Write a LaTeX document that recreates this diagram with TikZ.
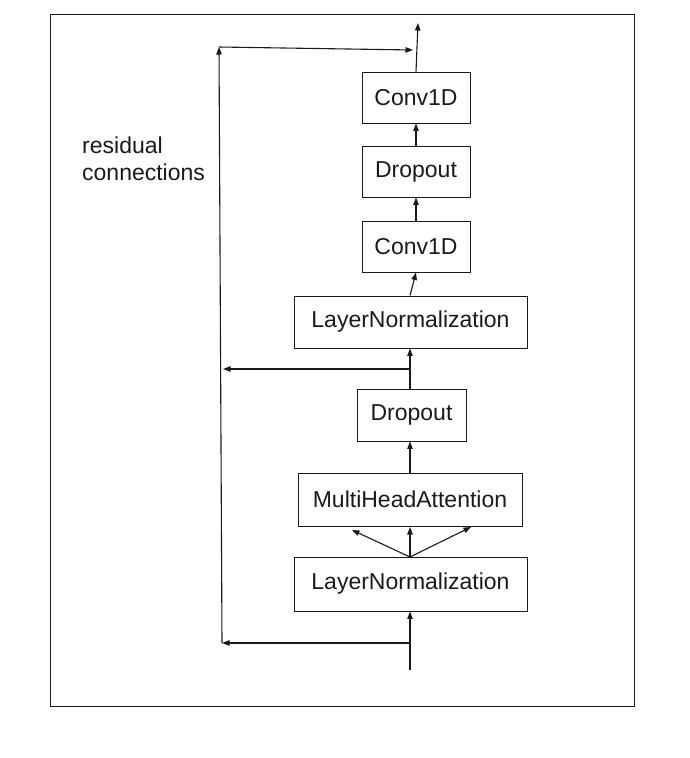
\documentclass[tikz,border=0pt]{standalone}
\usepackage{fontspec}
\setmainfont{Liberation Sans}
\usetikzlibrary{arrows.meta}
\definecolor{ink}{HTML}{1A1A1A}
\begin{document}
\begin{tikzpicture}[x=1pt,y=-1pt,
  box/.style={draw=ink,line width=0.95pt,inner sep=0pt,font=\fontsize{23}{27}\selectfont,text=ink},
  conn/.style={draw=ink,line width=1.1pt,-{Triangle[length=7.5pt,width=5.5pt]}},
  plain/.style={draw=ink,line width=1.1pt}]
\useasboundingbox (0,0) rectangle (690,758);
\draw[line width=0.9pt,ink] (50,14) rectangle (634,706);
% boxes
\node[box,minimum width=108pt,minimum height=51pt] (c1) at (416,97.5) {Conv1D};
\node[box,minimum width=108pt,minimum height=51pt] (d1) at (416,171.5) {Dropout};
\node[box,minimum width=108pt,minimum height=51pt] (c2) at (416,246.5) {Conv1D};
\node[box,minimum width=233pt,minimum height=52pt] (ln1) at (410.5,322) {LayerNormalization};
\node[box,minimum width=109pt,minimum height=52pt] (d2) at (411.5,415) {Dropout};
\node[box,minimum width=224pt,minimum height=53pt] (mha) at (410,499.5) {MultiHeadAttention};
\node[box,minimum width=233pt,minimum height=54pt] (ln2) at (410.5,584) {LayerNormalization};
\node[font=\fontsize{23}{27}\selectfont,text=ink,align=left,anchor=west,inner sep=0pt] (lbl) at (82,159) {residual\\connections};
% coordinates
\coordinate (in) at (410,670);
\coordinate (b1) at (410,643);
\coordinate (r1) at (222,643);
\coordinate (rt) at (219,47);
\coordinate (rtip) at (413,50);
\coordinate (b2) at (410,369);
\coordinate (r2) at (223,369);
\coordinate (out) at (418,23);
\coordinate (ln2top) at (410,557);
\coordinate (mL) at (352,530);
\coordinate (mM) at (410,527);
\coordinate (mR) at (471,527);
% main flow
\draw[conn] (in) -- (in |- ln2.south);
\draw[conn] (ln2top) -- (mL);
\draw[conn] (ln2top) -- (mM);
\draw[conn] (ln2top) -- (mR);
\draw[conn] (mha.north -| in) -- (d2.south -| in);
\draw[conn] (d2.north -| in) -- (ln1.south -| in);
\draw[conn] (ln1.north -| in) -- (c2.south);
\draw[conn] (c2.north) -- (d1.south);
\draw[conn] (d1.north) -- (c1.south);
\draw[conn] (c1.north) -- (out);
% residual connections
\draw[conn] (b1) -- (r1);
\draw[conn] (r1) -- (rt);
\draw[conn] (rt) -- (rtip);
\draw[conn] (b2) -- (r2);
\end{tikzpicture}
\end{document}
